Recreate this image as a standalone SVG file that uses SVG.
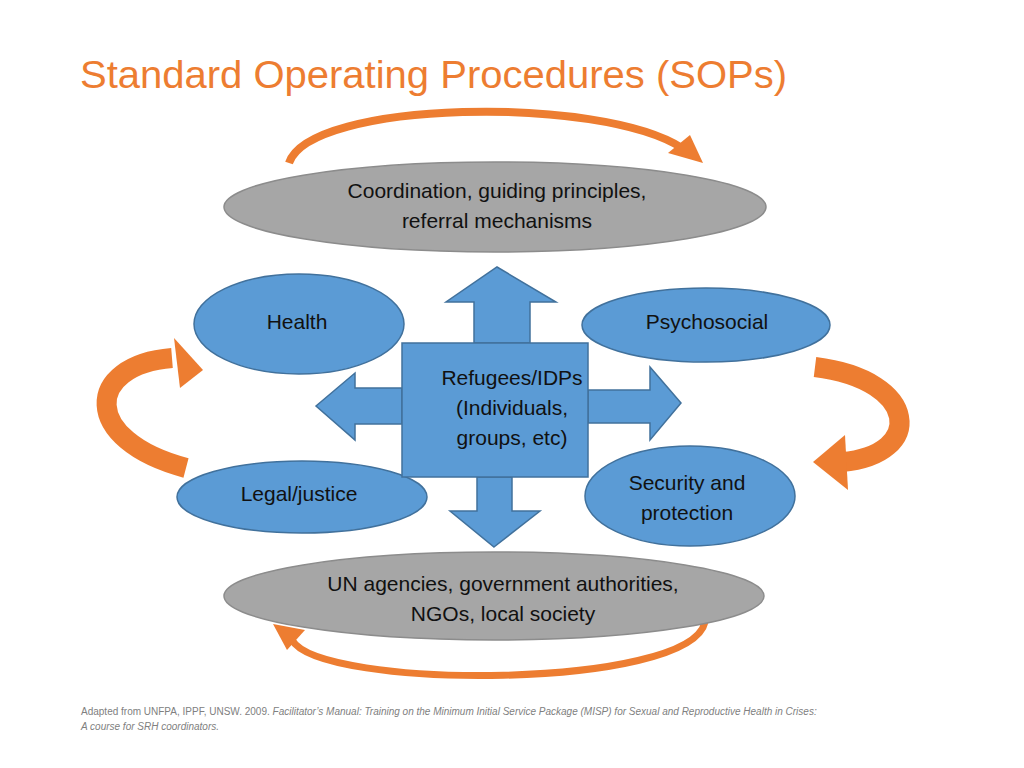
<svg xmlns="http://www.w3.org/2000/svg" width="1024" height="768" viewBox="0 0 1024 768">
<style>
.t{font-family:"Liberation Sans",Arial,sans-serif;font-size:21px;fill:#111;text-anchor:middle}
.grey{fill:#a6a6a6;stroke:#8c8c8c;stroke-width:1.5}
.blue{fill:#5b9bd5;stroke:#41719c;stroke-width:1.5}
.arc{fill:none;stroke:#ed7d31}
.hd{fill:#ed7d31}
.fn{font-family:"Liberation Sans",Arial,sans-serif;font-size:10px;fill:#808080}
</style>
<rect width="1024" height="768" fill="#fff"/>
<text x="80" y="88" font-family="'Liberation Sans',Arial,sans-serif" font-size="38" fill="#ed7d31" textLength="707" lengthAdjust="spacingAndGlyphs">Standard Operating Procedures (SOPs)</text>
<g id="connectors">
<path class="arc" stroke-width="8" d="M289,163 C310,100 600,95 682,148"/>
<polygon class="hd" points="703,163 668,153 690,135"/>
<path class="arc" stroke-width="20" d="M186,468 C80,440 85,365 172,358"/>
<polygon class="hd" points="203,370 174,338 180,388"/>
<path class="arc" stroke-width="20" d="M815,367 C920,380 925,455 842,462"/>
<polygon class="hd" points="813,462 845,435 848,490"/>
<path class="arc" stroke-width="7" d="M705,622 C690,690 320,690 292,640"/>
<polygon class="hd" points="273,624 305,630 287,650"/>
<polygon class="blue" points="497,267 556,302 530,302 530,343 474,343 474,302 446,302"/>
<polygon class="blue" points="316,406 355,373 355,388 402,388 402,424 355,424 355,440"/>
<polygon class="blue" points="681,403 650,367 650,390 588,390 588,423 650,423 650,440"/>
<polygon class="blue" points="494,547 540,511 512,511 512,477 477,477 477,511 450,511"/>
</g>
<g id="coord"><ellipse class="grey" cx="495" cy="207" rx="271" ry="45"/>
<text class="t" x="497" y="198">Coordination, guiding principles,</text><text class="t" x="497" y="228">referral mechanisms</text></g>
<g id="un"><ellipse class="grey" cx="494" cy="596" rx="270" ry="44"/>
<text class="t" x="503" y="591">UN agencies, government authorities,</text><text class="t" x="503" y="621">NGOs, local society</text></g>
<g id="health"><ellipse class="blue" cx="299" cy="324" rx="105" ry="50"/><text class="t" x="297" y="329">Health</text></g>
<g id="psycho"><ellipse class="blue" cx="706" cy="325" rx="124" ry="37"/><text class="t" x="707" y="329">Psychosocial</text></g>
<g id="legal"><ellipse class="blue" cx="302" cy="497" rx="125" ry="36"/><text class="t" x="299" y="501">Legal/justice</text></g>
<g id="security"><ellipse class="blue" cx="690" cy="496" rx="105" ry="50"/><text class="t" x="687" y="490">Security and</text><text class="t" x="687" y="520">protection</text></g>
<g id="center"><rect class="blue" x="402" y="343" width="186" height="134"/>
<text class="t" x="512" y="385">Refugees/IDPs</text><text class="t" x="512" y="415">(Individuals,</text><text class="t" x="512" y="445">groups, etc)</text></g>
<text class="fn" x="81" y="715">Adapted from UNFPA, IPPF, UNSW. 2009. <tspan font-style="italic">Facilitator’s Manual: Training on the Minimum Initial Service Package (MISP) for Sexual and Reproductive Health in Crises:</tspan></text>
<text class="fn" x="81" y="730" font-style="italic">A course for SRH coordinators.</text>
</svg>
